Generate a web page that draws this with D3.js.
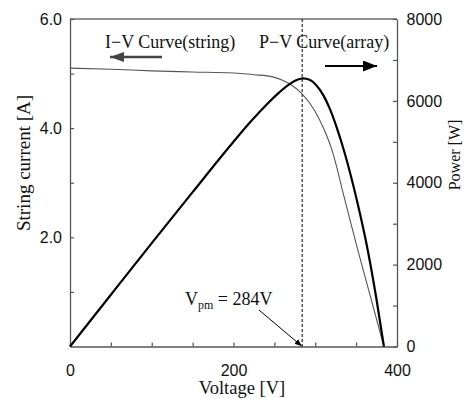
<!DOCTYPE html>
<html><head><meta charset="utf-8">
<script src="https://cdn.jsdelivr.net/npm/d3@7"></script>
<style>body{margin:0;background:#fff}svg{display:block}</style>
</head><body>
<script>
// I-V curve of one string (voltage [V], current [A])
const ivVoltage = [0, 50, 100, 150, 200, 225, 248, 260, 269, 283, 299, 311, 320, 336, 352, 368.5, 384];
const ivCurrent = [5.10, 5.08, 5.05, 5.03, 5.01, 4.98, 4.94, 4.88, 4.81, 4.64, 4.33, 3.97, 3.62, 2.70, 1.77, 0.86, 0];
// P-V curve of the array (voltage [V], power [W])
const pvVoltage = [0, 50, 100, 150, 200, 220, 240, 255, 269, 278, 285, 293, 301, 310, 318, 326, 336, 352, 364, 375, 384];
const pvPower   = [0, 1265, 2525, 3770, 5000, 5470, 5900, 6190, 6415, 6515, 6551, 6515, 6390, 6135, 5799, 5367, 4727, 3479, 2375, 1143, 0];
const vpm = 284;
const xTicks = [0, 50, 100, 150, 200, 250, 300, 350, 400];
const xLabels = [0, 200, 400];
const yLeftTicks = [1, 2, 3, 4, 5, 6];
const yLeftLabels = [2, 4, 6];
const yRightTicks = [0, 1000, 2000, 3000, 4000, 5000, 6000, 7000, 8000];
const yRightLabels = [0, 2000, 4000, 6000, 8000];

const W = 468, H = 399;
const L = 70, R = 397, T = 19, B = 346.5;
const svg = d3.select("body").append("svg").attr("width", W).attr("height", H);
const defs = svg.append("defs");
function marker(id, color, len, half) {
  defs.append("marker").attr("id", id).attr("viewBox", `0 0 ${len} ${half*2}`)
    .attr("refX", len).attr("refY", half).attr("markerWidth", len).attr("markerHeight", half*2)
    .attr("markerUnits", "userSpaceOnUse").attr("orient", "auto")
    .append("path").attr("d", `M0,0L${len},${half}L0,${half*2}Z`).attr("fill", color);
}
marker("ahGray", "#444", 14, 5);
marker("ahBlack", "#000", 14, 5.5);
marker("ahSmall", "#000", 7, 3);

const x = d3.scaleLinear().domain([0, 400]).range([L, R]);
const yI = d3.scaleLinear().domain([0, 6]).range([B, T]);
const yP = d3.scaleLinear().domain([0, 8000]).range([B, T]);

const sans = "'Liberation Sans', Arial, sans-serif";
const serif = "'Liberation Serif', 'Times New Roman', serif";
const axisColor = "#555";

function style(g) {
  g.select(".domain").attr("stroke", axisColor).attr("stroke-width", 1.3);
  g.selectAll(".tick line").attr("stroke", axisColor).attr("stroke-width", 1.2);
  g.selectAll(".tick text").attr("fill", "#111").style("font-family", sans).style("font-size", "16px");
}

// top frame
svg.append("line").attr("x1", L).attr("x2", R).attr("y1", T).attr("y2", T)
  .attr("stroke", "#222").attr("stroke-width", 1);

svg.append("g").attr("transform", `translate(0,${B})`)
  .call(d3.axisBottom(x).tickValues(xTicks).tickSizeInner(-4).tickSizeOuter(0).tickPadding(18)
    .tickFormat(d => xLabels.includes(d) ? d : ""))
  .call(style);
svg.append("g").attr("transform", `translate(${L},0)`)
  .call(d3.axisLeft(yI).tickValues(yLeftTicks).tickSizeInner(-4).tickSizeOuter(0).tickPadding(8)
    .tickFormat(d => yLeftLabels.includes(d) ? d.toFixed(1) : ""))
  .call(style);
svg.append("g").attr("transform", `translate(${R},0)`)
  .call(d3.axisRight(yP).tickValues(yRightTicks).tickSizeInner(-4).tickSizeOuter(0).tickPadding(9.5)
    .tickFormat(d => yRightLabels.includes(d) ? d : ""))
  .call(style);

// dashed Vpm line
svg.append("line").attr("x1", x(vpm)).attr("x2", x(vpm)).attr("y1", T).attr("y2", B)
  .attr("stroke", "#000").attr("stroke-width", 1).attr("stroke-dasharray", "3,2");

// curves
const ivData = ivVoltage.map((v, i) => [v, ivCurrent[i]]);
const pvData = pvVoltage.map((v, i) => [v, pvPower[i]]);
svg.append("path").datum(ivData)
  .attr("d", d3.line().x(d => x(d[0])).y(d => yI(d[1])).curve(d3.curveMonotoneX))
  .attr("fill", "none").attr("stroke", "#555").attr("stroke-width", 1.1);
svg.append("path").datum(pvData)
  .attr("d", d3.line().x(d => x(d[0])).y(d => yP(d[1])).curve(d3.curveMonotoneX))
  .attr("fill", "none").attr("stroke", "#000").attr("stroke-width", 2.2);

// legend texts & arrows
svg.append("text").attr("x", 105).attr("y", 48).text("I\u2212V Curve(string)")
  .style("font-family", serif).style("font-size", "18px").attr("fill", "#111");
svg.append("text").attr("x", 259).attr("y", 48).text("P\u2212V Curve(array)")
  .style("font-family", serif).style("font-size", "18px").attr("fill", "#111");
svg.append("line").attr("x1", 162).attr("y1", 57).attr("x2", 110).attr("y2", 57)
  .attr("stroke", "#444").attr("stroke-width", 2.5).attr("marker-end", "url(#ahGray)");
svg.append("line").attr("x1", 325).attr("y1", 66).attr("x2", 377).attr("y2", 66)
  .attr("stroke", "#000").attr("stroke-width", 2.2).attr("marker-end", "url(#ahBlack)");

// Vpm annotation
const ann = svg.append("text").attr("x", 185).attr("y", 305)
  .style("font-family", serif).style("font-size", "18px").attr("fill", "#111");
ann.append("tspan").text("V");
ann.append("tspan").attr("dy", 4).style("font-size", "12px").text("pm");
ann.append("tspan").attr("dy", -4).text(" = 284V");
svg.append("line").attr("x1", 259).attr("y1", 310).attr("x2", x(vpm) - 0.5).attr("y2", B - 0.5)
  .attr("stroke", "#000").attr("stroke-width", 1).attr("marker-end", "url(#ahSmall)");

// axis titles
svg.append("text").attr("x", 242).attr("y", 394).attr("text-anchor", "middle")
  .text("Voltage [V]").style("font-family", serif).style("font-size", "18.5px").attr("fill", "#111");
svg.append("text").attr("transform", "translate(30,163) rotate(-90)").attr("text-anchor", "middle")
  .text("String current [A]").style("font-family", serif).style("font-size", "19px").attr("fill", "#111");
svg.append("text").attr("transform", "translate(460,155) rotate(-90)").attr("text-anchor", "middle")
  .text("Power [W]").style("font-family", serif).style("font-size", "16px").attr("fill", "#111");
</script>
</body></html>
